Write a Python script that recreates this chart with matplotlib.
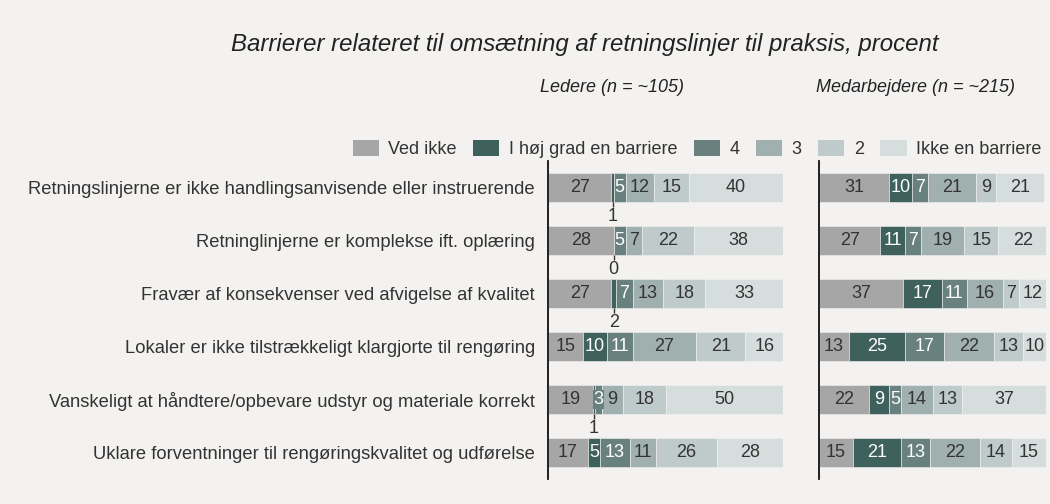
import matplotlib
matplotlib.use("Agg")
import matplotlib.pyplot as plt
from matplotlib.patches import Patch

plt.rcParams['font.family'] = ['Liberation Sans', 'DejaVu Sans']

categories = [
    "Retningslinjerne er ikke handlingsanvisende eller instruerende",
    "Retninglinjerne er komplekse ift. oplæring",
    "Fravær af konsekvenser ved afvigelse af kvalitet",
    "Lokaler er ikke tilstrækkeligt klargjorte til rengøring",
    "Vanskeligt at håndtere/opbevare udstyr og materiale korrekt",
    "Uklare forventninger til rengøringskvalitet og udførelse",
]
series_names = ["Ved ikke", "I høj grad en barriere", "4", "3", "2", "Ikke en barriere"]

# Ledere
led_ved_ikke = [27, 28, 27, 15, 19, 17]
led_hoej = [1, 0, 2, 10, 1, 5]
led_4 = [5, 5, 7, 11, 3, 13]
led_3 = [12, 7, 13, 27, 9, 11]
led_2 = [15, 22, 18, 21, 18, 26]
led_ikke = [40, 38, 33, 16, 50, 28]

# Medarbejdere
med_ved_ikke = [31, 27, 37, 13, 22, 15]
med_hoej = [10, 11, 17, 25, 9, 21]
med_4 = [7, 7, 11, 17, 5, 13]
med_3 = [21, 19, 16, 22, 14, 22]
med_2 = [9, 15, 7, 13, 13, 14]
med_ikke = [21, 22, 12, 10, 37, 15]

colors = ["#a6a6a6", "#3e615d", "#68807e", "#9fb0ae", "#bfcbca", "#d5dedd"]
text_colors = ["#333333", "white", "white", "#333333", "#333333", "#333333"]
bg = "#f3f2f0"

W, H = 1050, 504
fig = plt.figure(figsize=(W / 100, H / 100), dpi=100)
fig.patch.set_facecolor(bg)

def fx(px):
    return px / W

def fy(py):
    return 1 - py / H

FS = 13

ax_top, ax_bot = 161, 479
axL = fig.add_axes([fx(548), fy(ax_bot), fx(783) - fx(548), fy(ax_top) - fy(ax_bot)])
axR = fig.add_axes([fx(819), fy(ax_bot), fx(1046) - fx(819), fy(ax_top) - fy(ax_bot)])

bar_h = 0.55

def draw(ax, data, show_labels):
    ax.set_facecolor(bg)
    n = len(categories)
    ys = list(range(n))
    lefts = [0.0] * n
    for s, vals in enumerate(data):
        ax.barh(ys, vals, left=lefts, height=bar_h, color=colors[s],
                edgecolor=bg, linewidth=0.4)
        for i, v in enumerate(vals):
            cx = lefts[i] + v / 2
            if v < 3:
                ax.plot([cx, cx], [i + bar_h / 2, i + 0.37], color="#333333", lw=1.0,
                        solid_capstyle="butt")
                ax.text(cx, i + 0.55, str(v), ha="center", va="center",
                        fontsize=FS, color="#333333")
            else:
                kw = {}
                if v < 4:
                    kw["bbox"] = dict(facecolor=colors[s], edgecolor="none", pad=0.5)
                ax.text(cx, i, str(v), ha="center", va="center", fontsize=FS,
                        color=text_colors[s], **kw)
        lefts = [a + b for a, b in zip(lefts, vals)]
    ax.set_xlim(0, 100)
    ax.set_ylim(n - 0.5, -0.5)
    ax.set_xticks([])
    for sp in ["top", "right", "bottom"]:
        ax.spines[sp].set_visible(False)
    ax.spines["left"].set_color("#111111")
    ax.spines["left"].set_linewidth(1.3)
    ax.set_yticks(ys)
    if show_labels:
        ax.set_yticklabels(categories, fontsize=13.2, color="#333333")
        ax.tick_params(axis="y", length=0, pad=9.5)
    else:
        ax.set_yticklabels([])
        ax.tick_params(axis="y", length=0)

draw(axL, [led_ved_ikke, led_hoej, led_4, led_3, led_2, led_ikke], True)
draw(axR, [med_ved_ikke, med_hoej, med_4, med_3, med_2, med_ikke], False)

fig.text(fx(585), fy(44), "Barrierer relateret til omsætning af retningslinjer til praksis, procent",
         ha="center", va="center", fontsize=17.3, style="italic", color="#222222")
fig.text(fx(612), fy(88), "Ledere (n = ~105)", ha="center", va="center",
         fontsize=FS, style="italic", color="#222222")
fig.text(fx(916), fy(88), "Medarbejdere (n = ~215)", ha="center", va="center",
         fontsize=FS, style="italic", color="#222222")

handles = [Patch(facecolor=c, edgecolor="none") for c in colors]
leg = fig.legend(handles, series_names, loc="center", ncol=6,
                 bbox_to_anchor=(fx(697), fy(149)), frameon=False, fontsize=FS,
                 handlelength=1.45, handleheight=1.05, handletextpad=0.52,
                 columnspacing=0.92, labelcolor="#333333")

fig.savefig("out.png", dpi=100, facecolor=bg)
